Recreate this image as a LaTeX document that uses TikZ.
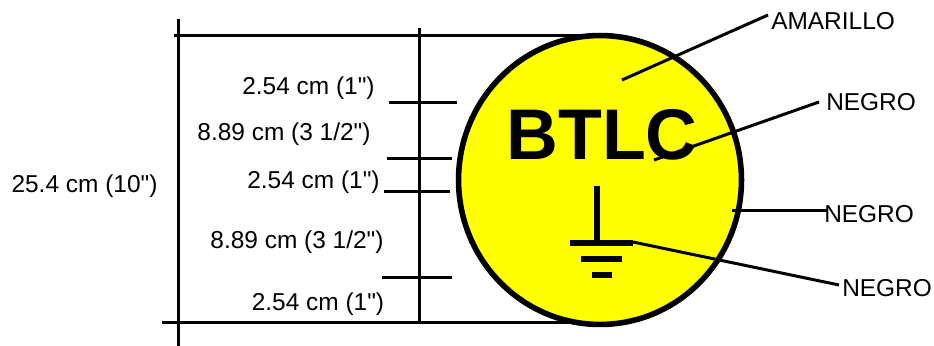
\documentclass[tikz,border=0pt]{standalone}
\usepackage{fontspec}
\usetikzlibrary{shapes.geometric}
\newfontfamily\lat{Liberation Sans}
\definecolor{sigyellow}{RGB}{255,255,0}
\tikzset{x=0.0264583cm,y=-0.0264583cm,
 ln/.style={draw=black,line width=2.25pt},
 gnd/.style={draw=black,line width=4.5pt},
 lbl/.style={font=\lat\fontsize{18.4}{20}\selectfont,inner sep=0pt,text=black},
 title/.style={font=\lat\fontsize{54}{60}\selectfont\bfseries,inner sep=0pt}}
\begin{document}
\begin{tikzpicture}
\useasboundingbox (0,0) rectangle (934,346);
\fill[white] (0,0) rectangle (934,346);
\draw[ln] (178.5,19) -- (178.5,346);
\draw[ln] (419.5,28) -- (419.5,322);
\draw[ln] (174,35.5) -- (615,35.5);
\draw[ln] (162,322.5) -- (600,322.5);
\node[ellipse,draw=black,line width=4.2pt,fill=sigyellow,minimum width=284*0.75pt,minimum height=290*0.75pt,inner sep=0pt] (c) at (600,180) {};
\coordinate (a1) at (389,102.5);\coordinate (b1) at (457,102.5);
\coordinate (a2) at (387,158.5);\coordinate (b2) at (452,158.5);
\coordinate (a3) at (384,191.5);\coordinate (b3) at (450,191.5);
\coordinate (a4) at (382,277.5);\coordinate (b4) at (452,277.5);
\draw[ln] (a1) -- (b1);\draw[ln] (a2) -- (b2);\draw[ln] (a3) -- (b3);\draw[ln] (a4) -- (b4);
\node[title] (b) at (602,134.5) {BTLC};
\coordinate (g1) at (597,186);\coordinate (g2) at (597,243);
\draw[gnd] (g1) -- (g2);
\draw[gnd] (570,243) -- (633,243);
\draw[gnd] (581,259) -- (622,259);
\draw[gnd] (592,275) -- (612,275);
\node[lbl,anchor=west] (am) at (771,21) {AMARILLO};
\node[lbl,anchor=west] (n1) at (826,102) {NEGRO};
\node[lbl,anchor=west] (n2) at (824,214) {NEGRO};
\node[lbl,anchor=west] (n3) at (842,288) {NEGRO};
\coordinate (e1) at (768,15);\coordinate (e2) at (819,102);\coordinate (e3) at (827,210.5);\coordinate (e4) at (839,285);
\coordinate (p1) at (622,80);\coordinate (p2) at (654,160);\coordinate (p3) at (732,210.5);\coordinate (p4) at (633,242);
\draw[ln] (e1) -- (p1);
\draw[ln] (e2) -- (p2);
\draw[ln] (e3) -- (p3);
\draw[ln] (e4) -- (p4);
\node[lbl] (t0) at (84.5,186) {25.4 cm (10")};
\node[lbl] (t1) at (308.5,88) {2.54 cm (1")};
\node[lbl] (t2) at (284,134) {8.89 cm (3 1/2")};
\node[lbl] (t3) at (313.5,182.5) {2.54 cm (1")};
\node[lbl] (t4) at (297,242) {8.89 cm (3 1/2")};
\node[lbl] (t5) at (318,304) {2.54 cm (1")};
\end{tikzpicture}
\end{document}
